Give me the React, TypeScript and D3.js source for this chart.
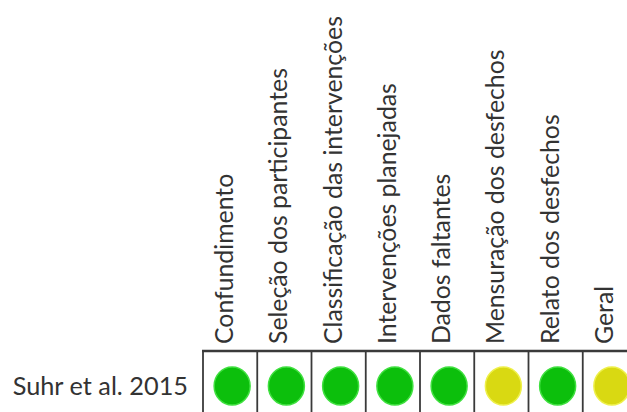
import React from "react";
import * as d3 from "d3";

const domains = [
  "Confundimento",
  "Seleção dos participantes",
  "Classificação das intervenções",
  "Intervenções planejadas",
  "Dados faltantes",
  "Mensuração dos desfechos",
  "Relato dos desfechos",
  "Geral",
];
const studies = ["Suhr et al. 2015"];
const judgments = [
  ["Baixo", "Baixo", "Baixo", "Baixo", "Baixo", "Moderado", "Baixo", "Moderado"],
];
const levels = ["Baixo", "Moderado"];
const levelColors = ["#0cbf0c", "#d9d912"];
const levelStroke = ["#3fe03f", "#eef04a"];

const W = 627;
const H = 412;

export default function App() {
  const x = d3.scaleBand<string>().domain(domains).range([203, 637]);
  const y = d3.scaleBand<string>().domain(studies).range([351, 423]);
  const fill = d3.scaleOrdinal<string, string>().domain(levels).range(levelColors);
  const edge = d3.scaleOrdinal<string, string>().domain(levels).range(levelStroke);
  const font = "Lato, 'Open Sans', sans-serif";
  const x0 = x.range()[0];
  const x1 = x.range()[1];
  const y0 = y.range()[0];
  const y1 = y.range()[1];

  return (
    <svg
      width={W}
      height={H}
      style={{ position: "absolute", left: 0, top: 0, background: "#fff" }}
      fontFamily={font}
    >
      <rect width={W} height={H} fill="#fff" />
      {domains.map((d) => (
        <text
          key={d}
          transform={`translate(${(x(d) ?? 0) + x.bandwidth() / 2 + 3},344) rotate(-90)`}
          fontSize={24.8}
          fill="#333"
          textAnchor="start"
        >
          {d}
        </text>
      ))}
      {studies.map((s, i) => (
        <g key={s}>
          <text
            x={188}
            y={(y(s) ?? 0) + y.bandwidth() / 2 + 8}
            fontSize={25.3}
            fill="#333"
            textAnchor="end"
          >
            {s}
          </text>
          {domains.map((d, j) => (
            <ellipse
              key={d}
              cx={(x(d) ?? 0) + x.bandwidth() / 2 + 2}
              cy={(y(s) ?? 0) + y.bandwidth() / 2 - 1}
              rx={18}
              ry={19}
              fill={fill(judgments[i][j])}
              stroke={edge(judgments[i][j])}
              strokeWidth={1.5}
            />
          ))}
        </g>
      ))}
      {domains.map((d) => (
        <line
          key={d}
          x1={x(d)}
          x2={x(d)}
          y1={y0}
          y2={y1}
          stroke="#3a3a3a"
          strokeWidth={1.8}
        />
      ))}
      <line x1={x1} x2={x1} y1={y0} y2={y1} stroke="#3a3a3a" strokeWidth={1.8} />
      <line x1={x0 - 1} x2={x1} y1={y0} y2={y0} stroke="#3a3a3a" strokeWidth={2.6} />
      <line x1={x0 - 1} x2={x1} y1={y1} y2={y1} stroke="#3a3a3a" strokeWidth={2} />
    </svg>
  );
}
